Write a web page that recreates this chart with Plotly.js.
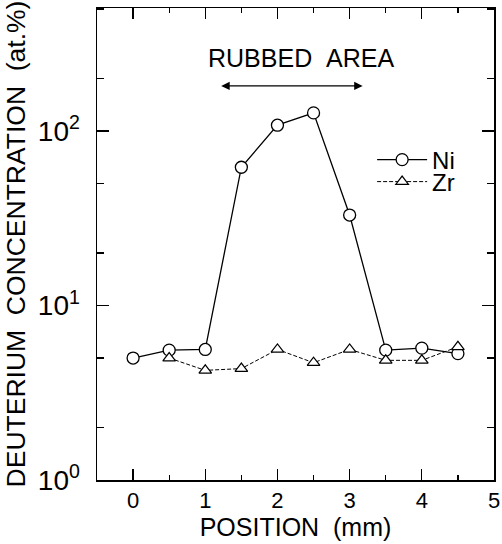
<!DOCTYPE html>
<html>
<head>
<meta charset="utf-8">
<script src="https://cdn.plot.ly/plotly-3.0.1.min.js"></script>
<style>html,body{margin:0;padding:0;background:#fff;}#chart{width:502px;height:544px;}</style>
</head>
<body>
<div id="chart"></div>
<script>
// Data
const niPosition = [0, 0.5, 1, 1.5, 2, 2.5, 3, 3.5, 4, 4.5];
const niConcentration = [5.0, 5.55, 5.6, 62, 108, 127, 33, 5.55, 5.7, 5.3];
const zrPosition = [0.5, 1, 1.5, 2, 2.5, 3, 3.5, 4, 4.5];
const zrConcentration = [5.0, 4.25, 4.35, 5.6, 4.7, 5.6, 4.85, 4.85, 5.8];
const yTickVals = [1, 10, 100];
const yTickText = ['10<sup>0</sup>', '10<sup>1</sup>', '10<sup>2</sup>'];
const yMinorVals = [2, 5, 20, 50, 200, 500];
const xTickVals = [0, 1, 2, 3, 4, 5];

const FONT = 'Liberation Sans, Arial, Helvetica, sans-serif';

const traces = [
  {
    x: niPosition, y: niConcentration, name: 'Ni', type: 'scatter', mode: 'lines+markers',
    legend: 'legend',
    line: {color: '#000', width: 1.3},
    marker: {symbol: 'circle', size: 12, color: '#fff', line: {color: '#000', width: 1.3}}
  },
  {
    x: zrPosition, y: zrConcentration, name: 'Zr', type: 'scatter', mode: 'lines+markers',
    legend: 'legend2',
    line: {color: '#000', width: 1, dash: '4px,2px'},
    marker: {symbol: 'triangle-up', size: 11, color: '#fff', line: {color: '#000', width: 1.2}}
  }
];

const legendCommon = {xanchor: 'left', yanchor: 'middle', bgcolor: 'rgba(0,0,0,0)',
  font: {size: 24, family: FONT}, itemwidth: 50, borderwidth: 0};

const layout = {
  width: 502, height: 544,
  margin: {l: 97, r: 8, t: 8, b: 64},
  paper_bgcolor: '#fff', plot_bgcolor: '#fff',
  font: {family: FONT, color: '#000', size: 22},
  showlegend: true,
  legend: Object.assign({x: 0.693, y: (480 - 160) / 472}, legendCommon),
  legend2: Object.assign({x: 0.693, y: (480 - 182) / 472}, legendCommon),
  xaxis: {
    range: [-0.5, 5], tickmode: 'array', tickvals: xTickVals,
    ticks: 'inside', ticklen: 11, tickwidth: 1.3, tickcolor: '#000',
    minor: {dtick: 0.5, tick0: 0, ticks: 'inside', ticklen: 5, tickwidth: 1.3, tickcolor: '#000'},
    showline: true, linecolor: '#000', linewidth: 1.5, mirror: 'allticks',
    showgrid: false, zeroline: false,
    tickfont: {size: 22, family: FONT},
    title: {text: 'POSITION\u00a0\u00a0(mm)', font: {size: 25, family: FONT}, standoff: 0}
  },
  yaxis: {
    type: 'log', range: [0, 2.705], tickmode: 'array', tickvals: yTickVals, ticktext: yTickText,
    ticks: 'inside', ticklen: 12, tickwidth: 1.3, tickcolor: '#000',
    minor: {tickmode: 'array', tickvals: yMinorVals, ticks: 'inside', ticklen: 7, tickwidth: 1.3, tickcolor: '#000'},
    showline: true, linecolor: '#000', linewidth: 1.5, mirror: 'allticks',
    showgrid: false, zeroline: false,
    ticklabelstandoff: 10,
    tickfont: {size: 28, family: FONT},
    title: {text: 'DEUTERIUM\u00a0\u00a0CONCENTRATION\u00a0\u00a0(at.%)', font: {size: 26.5, family: FONT}, standoff: 4}
  },
  annotations: [
    {text: 'RUBBED\u00a0\u00a0AREA', xref: 'x', yref: 'paper', x: 2.33, y: 0.895,
     xanchor: 'center', yanchor: 'middle',
     showarrow: false, font: {size: 25, family: FONT}},
    {text: '', xref: 'x', yref: 'paper', x: 3.18, y: 0.835, axref: 'x', ayref: 'pixel',
     ax: 1.2, ay: 0, showarrow: true, arrowside: 'end+start', arrowhead: 2, arrowsize: 1.3,
     arrowwidth: 1.3, arrowcolor: '#000'}
  ]
};

Plotly.newPlot('chart', traces, layout, {displayModeBar: false, staticPlot: true});
</script>
</body>
</html>
